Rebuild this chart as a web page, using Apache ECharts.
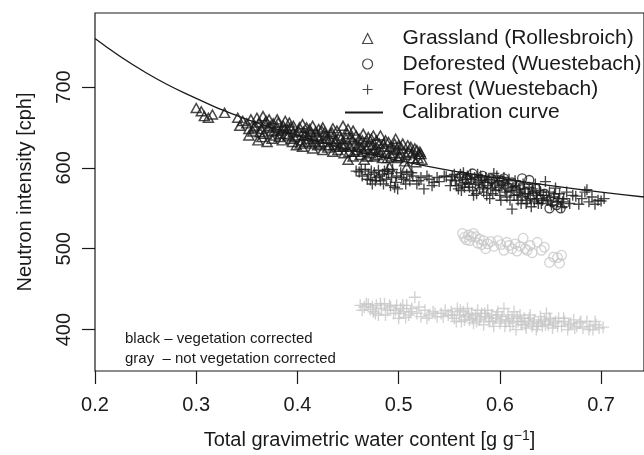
<!DOCTYPE html>
<html>
<head>
<meta charset="utf-8">
<script src="https://cdn.jsdelivr.net/npm/echarts@6/dist/echarts.min.js"></script>
<style>
html,body{margin:0;padding:0;background:#fff;}
#chart{width:644px;height:455px;}
</style>
</head>
<body>
<div id="chart"></div>
<script>
// ---- data ----
const xTicks = [0.2, 0.3, 0.4, 0.5, 0.6, 0.7];
const yTicks = [400, 500, 600, 700];

// Grassland (Rollesbroich), vegetation corrected: [water content, neutron intensity]
const grassland = [
[0.300,674],[0.305,670],[0.308,664],[0.312,662],[0.316,666],[0.328,668],
[0.341,662],[0.343,652],[0.346,658],[0.350,655],[0.352,648],[0.354,660],[0.356,645],[0.358,652],
[0.360,662],[0.361,634],[0.362,656],[0.364,648],[0.366,664],[0.367,642],[0.368,655],[0.370,632],
[0.371,650],[0.372,660],[0.374,645],[0.376,655],[0.378,640],[0.380,650],[0.382,638],[0.384,646],
[0.386,652],[0.388,642],[0.390,648],[0.392,656],[0.394,636],[0.396,644],[0.399,628],[0.400,640],
[0.402,650],[0.404,634],[0.406,645],[0.408,632],[0.410,640],[0.412,648],[0.414,630],[0.416,638],
[0.418,645],[0.420,628],[0.422,636],[0.424,646],[0.426,632],[0.428,640],[0.430,625],[0.432,636],
[0.434,644],[0.436,628],[0.438,635],[0.440,622],[0.442,640],[0.444,630],[0.446,618],[0.448,636],
[0.450,610],[0.450,648],[0.452,626],[0.454,634],[0.456,620],[0.458,640],[0.460,628],[0.462,616],
[0.464,634],[0.466,610],[0.468,624],[0.470,638],[0.472,618],[0.474,628],[0.476,614],[0.478,634],
[0.480,622],[0.482,640],[0.484,612],[0.486,626],[0.488,618],[0.490,632],[0.491,601],[0.493,614],
[0.495,624],[0.497,636],[0.499,612],[0.500,628],[0.502,618],[0.504,630],[0.506,608],[0.508,601],
[0.510,620],[0.512,626],[0.514,612],[0.517,607],[0.518,622],[0.520,617],[0.522,617],[0.523,610],
[0.405,654],[0.415,652],[0.425,650],[0.435,649],[0.445,652],[0.455,646],[0.465,642],[0.475,640],
[0.380,660],[0.388,658],[0.396,652],[0.365,638],[0.375,636],[0.385,634],[0.395,632],[0.405,626],
[0.415,624],[0.425,622],[0.435,620],[0.445,626],[0.455,614],[0.465,620],[0.475,622],[0.485,630],
[0.352,640],[0.357,650],[0.363,644],[0.369,658],[0.373,652],[0.377,646],[0.381,656],[0.383,642],
[0.387,648],[0.391,640],[0.393,650],[0.397,638],[0.401,646],[0.403,630],[0.407,640],[0.409,650],
[0.411,636],[0.413,644],[0.417,632],[0.419,640],[0.421,648],[0.423,630],[0.427,644],[0.429,636],
[0.431,628],[0.433,642],[0.437,632],[0.439,646],[0.441,626],[0.443,636],[0.447,628],[0.449,642],
[0.451,620],[0.453,638],[0.457,630],[0.459,622],[0.461,636],[0.463,626],[0.467,632],[0.469,614],
[0.471,628],[0.473,636],[0.477,624],[0.479,616],[0.481,630],[0.483,620],[0.487,634],[0.489,612],
[0.492,626],[0.494,618],[0.496,630],[0.498,622],[0.501,614],[0.503,624],[0.507,616],[0.509,628],
[0.513,618],[0.516,624],[0.519,612],[0.521,620]
];

// Deforested (Wuestebach), vegetation corrected
const deforested = [
[0.562,590],[0.567,586],[0.573,593],[0.578,584],[0.583,590],[0.588,580],[0.592,586],[0.597,578],
[0.602,584],[0.604,587],[0.608,576],[0.612,582],[0.616,572],[0.620,578],[0.622,587],[0.626,570],
[0.629,585],[0.632,566],[0.636,574],[0.640,562],[0.644,568],[0.649,550],[0.652,558],[0.656,554],
[0.660,550],[0.664,556]
];

// Forest (Wuestebach), vegetation corrected
const forest = [
[0.458,596],[0.461,595],[0.464,590],[0.467,598],[0.470,592],[0.472,585],[0.474,580],[0.476,594],
[0.478,588],[0.480,597],[0.482,584],[0.484,592],[0.486,596],[0.488,586],[0.490,593],[0.492,578],
[0.494,598],[0.496,576],[0.498,590],[0.499,574],[0.502,594],[0.505,586],[0.508,592],[0.511,584],
[0.514,590],[0.518,580],[0.522,588],[0.525,574],[0.530,586],[0.535,582],[0.540,583],[0.545,590],
[0.547,589],[0.552,585],[0.555,592],[0.557,578],[0.560,588],[0.562,572],[0.564,594],[0.566,582],
[0.568,590],[0.570,576],[0.572,586],[0.574,566],[0.576,580],[0.578,592],[0.580,574],[0.582,584],
[0.584,570],[0.586,588],[0.588,578],[0.590,562],[0.592,582],[0.594,593],[0.596,572],[0.598,584],
[0.600,566],[0.602,578],[0.604,588],[0.606,570],[0.608,580],[0.610,560],[0.612,549],[0.613,576],
[0.615,584],[0.617,566],[0.619,574],[0.621,556],[0.623,580],[0.625,568],[0.627,560],[0.629,576],
[0.631,552],[0.633,570],[0.635,580],[0.637,562],[0.639,572],[0.641,556],[0.643,566],[0.645,583],
[0.647,560],[0.649,570],[0.651,554],[0.653,564],[0.655,575],[0.657,558],[0.659,568],[0.661,552],
[0.663,562],[0.666,570],[0.669,556],[0.672,566],[0.675,565],[0.678,555],[0.681,562],[0.684,570],
[0.686,573],[0.688,558],[0.691,564],[0.694,555],[0.697,560],[0.700,559],[0.703,562],
[0.551,578],[0.553,590],[0.556,584],[0.559,574],[0.561,592],[0.563,580],[0.565,576],[0.567,586],
[0.569,580],[0.571,592],[0.573,572],[0.575,588],[0.577,568],[0.579,582],[0.581,590],[0.583,576],
[0.585,582],[0.587,566],[0.589,586],[0.591,574],[0.593,568],[0.595,580],[0.597,590],[0.599,576],
[0.601,560],[0.603,584],[0.605,574],[0.607,564],[0.609,586],[0.611,572],[0.614,566],[0.616,578],
[0.618,560],[0.620,570],[0.622,564],[0.624,574],[0.626,556],[0.628,568],[0.630,562],[0.632,574],
[0.634,558],[0.636,566],[0.638,556],[0.640,570],[0.642,560],[0.646,566],[0.650,558],[0.654,568],
[0.658,562],[0.662,558],
[0.463,598],[0.469,586],[0.473,596],[0.477,584],[0.481,590],[0.485,580],[0.489,598],[0.493,588],
[0.497,582],[0.503,588],[0.507,580],[0.513,594],[0.520,584],[0.528,590],[0.533,578],[0.538,588]
];

// Deforested (Wuestebach), not vegetation corrected (gray)
const deforestedRaw = [
[0.563,519],[0.565,514],[0.567,511],[0.569,517],[0.570,510],[0.572,515],[0.574,519],[0.576,515],
[0.578,507],[0.580,512],[0.582,505],[0.584,510],[0.586,500],[0.588,506],[0.591,509],[0.594,503],
[0.598,510],[0.601,505],[0.604,498],[0.607,508],[0.609,504],[0.612,500],[0.615,506],[0.617,497],
[0.620,503],[0.623,513],[0.625,500],[0.627,498],[0.630,504],[0.632,495],[0.637,508],[0.641,498],
[0.644,502],[0.649,483],[0.653,490],[0.657,489],[0.659,482],[0.661,492]
];

// Forest (Wuestebach), not vegetation corrected (gray)
const forestRaw = [
[0.462,430],[0.466,428],[0.470,431],[0.472,425],[0.475,422],[0.478,430],[0.480,418],[0.483,426],
[0.486,432],[0.489,424],[0.492,428],[0.495,420],[0.498,430],[0.500,414],[0.502,426],[0.505,422],
[0.508,430],[0.510,418],[0.513,426],[0.516,440],[0.518,420],[0.522,416],[0.526,424],[0.530,418],
[0.534,422],[0.538,416],[0.542,420],[0.546,424],[0.549,418],[0.552,422],[0.555,414],[0.558,426],
[0.560,418],[0.562,410],[0.564,422],[0.566,416],[0.568,426],[0.570,412],[0.572,420],[0.574,408],
[0.576,418],[0.578,424],[0.580,412],[0.582,420],[0.584,406],[0.586,416],[0.588,424],[0.590,410],
[0.592,418],[0.594,404],[0.596,414],[0.598,422],[0.600,408],[0.602,416],[0.604,426],[0.606,410],
[0.608,418],[0.610,404],[0.612,414],[0.614,422],[0.616,400],[0.618,410],[0.620,418],[0.622,406],
[0.624,414],[0.626,402],[0.628,410],[0.630,418],[0.632,404],[0.634,412],[0.636,400],[0.638,408],
[0.640,416],[0.642,404],[0.644,412],[0.646,420],[0.648,406],[0.650,412],[0.652,402],[0.655,410],
[0.658,414],[0.661,404],[0.664,410],[0.667,400],[0.670,408],[0.673,412],[0.676,404],[0.679,408],
[0.682,402],[0.686,410],[0.689,404],[0.692,400],[0.695,406],[0.698,402],[0.702,403],
[0.553,418],[0.557,410],[0.561,424],[0.565,412],[0.569,418],[0.573,414],[0.577,410],[0.581,416],
[0.585,420],[0.589,414],[0.593,410],[0.597,418],[0.601,412],[0.605,404],[0.609,412],[0.613,408],
[0.617,416],[0.621,410],[0.625,406],[0.629,414],[0.633,408],[0.637,404],[0.641,410],[0.645,406],
[0.649,414],[0.653,408],[0.657,404],[0.663,414],[0.668,406],[0.674,402],[0.680,410],[0.688,400],
[0.694,410],
[0.464,424],[0.468,432],[0.474,428],[0.477,420],[0.482,432],[0.487,418],[0.491,430],[0.497,424],
[0.501,420],[0.504,430],[0.507,415],[0.512,422],[0.520,428],[0.528,414],[0.536,420],[0.544,416]
];

// Calibration curve, read at regular water-content steps
const curveX = [0.20, 0.25, 0.30, 0.35, 0.40, 0.45, 0.50, 0.55, 0.60, 0.65, 0.70, 0.75];
const curveY = [760, 718, 686, 660, 640, 623, 609, 597, 587, 578, 570, 563];

// ---- chart ----
const FONT = 'Liberation Sans';
const INK = '#1a1a1a';
const GRAY = '#c8c8c8';
const PLUS = 'path://M5,0L5,10M0,5L10,5';

const chart = echarts.init(document.getElementById('chart'), null, {renderer: 'canvas'});

const option = {
  backgroundColor: '#fff',
  animation: false,
  textStyle: {fontFamily: FONT, color: INK},
  grid: {
    left: 95, right: -1, top: 13, bottom: 79,
    show: true, borderColor: INK, borderWidth: 1.2, backgroundColor: 'transparent'
  },
  xAxis: {
    type: 'value', min: 0.2, max: 0.7424,
    splitLine: {show: false},
    axisLine: {show: false},
    axisTick: {show: true, length: 13, lineStyle: {color: INK, width: 1.2}, customValues: xTicks},
    axisLabel: {customValues: xTicks, fontSize: 20, color: INK, fontFamily: FONT, margin: 24,
      formatter: v => v.toFixed(1)},
    name: 'Total gravimetric water content [g g{sup|−1}]',
    nameLocation: 'middle', nameGap: 58,
    nameTextStyle: {fontSize: 20, color: INK, fontFamily: FONT,
      rich: {sup: {fontSize: 14, color: INK, fontFamily: FONT, verticalAlign: 'top', padding: [0, 0, 8, 0]}}}
  },
  yAxis: {
    type: 'value', min: 348.8, max: 791.5,
    splitLine: {show: false},
    axisLine: {show: false},
    axisTick: {show: true, length: 13, lineStyle: {color: INK, width: 1.2}, customValues: yTicks},
    axisLabel: {customValues: yTicks, fontSize: 20, color: INK, fontFamily: FONT, margin: 21, rotate: 90},
    name: 'Neutron intensity [cph]',
    nameLocation: 'middle', nameGap: 60, nameRotate: 90,
    nameTextStyle: {fontSize: 20, color: INK, fontFamily: FONT}
  },
  legend: [
    {
      orient: 'vertical', left: 357, top: 23,
      itemWidth: 10, itemHeight: 10, itemGap: 4.5,
      data: ['Grassland (Rollesbroich)', 'Deforested (Wuestebach)', 'Forest (Wuestebach)'],
      textStyle: {fontSize: 21, lineHeight: 20, color: INK, fontFamily: FONT, padding: [0, 0, 0, 25]},
      itemStyle: {borderWidth: 1.2},
      selectedMode: false
    },
    {
      orient: 'vertical', left: 340, top: 97,
      itemWidth: 38, itemHeight: 2,
      data: [{name: 'Calibration curve', icon: 'rect'}],
      textStyle: {fontSize: 21, lineHeight: 20, color: INK, fontFamily: FONT, padding: [0, 0, 0, 14]},
      itemStyle: {color: INK, borderWidth: 0},
      lineStyle: {color: INK, width: 1.3},
      selectedMode: false
    }
  ],
  graphic: [
    {type: 'text', left: 125, top: 331, style: {text: 'black – vegetation corrected', fontSize: 15, fontFamily: FONT, fill: INK}},
    {type: 'text', left: 125, top: 351, style: {text: 'gray  – not vegetation corrected', fontSize: 15, fontFamily: FONT, fill: INK}}
  ],
  series: [
    {
      name: 'Deforested (not corrected)', type: 'scatter', data: deforestedRaw,
      symbol: 'circle', symbolSize: 9.5,
      itemStyle: {color: 'transparent', borderColor: GRAY, borderWidth: 1.3}
    },
    {
      name: 'Forest (not corrected)', type: 'scatter', data: forestRaw,
      symbol: PLUS, symbolSize: 12,
      itemStyle: {color: 'transparent', borderColor: GRAY, borderWidth: 1.4}
    },
    {
      name: 'Forest (Wuestebach)', type: 'scatter', data: forest,
      symbol: PLUS, symbolSize: 11,
      itemStyle: {color: 'transparent', borderColor: INK, borderWidth: 1.4}
    },
    {
      name: 'Deforested (Wuestebach)', type: 'scatter', data: deforested,
      symbol: 'circle', symbolSize: 9,
      itemStyle: {color: 'transparent', borderColor: INK, borderWidth: 1.3}
    },
    {
      name: 'Grassland (Rollesbroich)', type: 'scatter', data: grassland,
      symbol: 'triangle', symbolSize: [10, 9],
      itemStyle: {color: 'transparent', borderColor: INK, borderWidth: 1.5}
    },
    {
      name: 'Calibration curve', type: 'line',
      data: curveX.map((x, i) => [x, curveY[i]]),
      smooth: true, showSymbol: false, symbol: 'none', clip: true,
      lineStyle: {color: INK, width: 1.3},
      itemStyle: {color: INK},
      z: 1
    }
  ]
};
chart.setOption(option);
</script>
</body>
</html>
